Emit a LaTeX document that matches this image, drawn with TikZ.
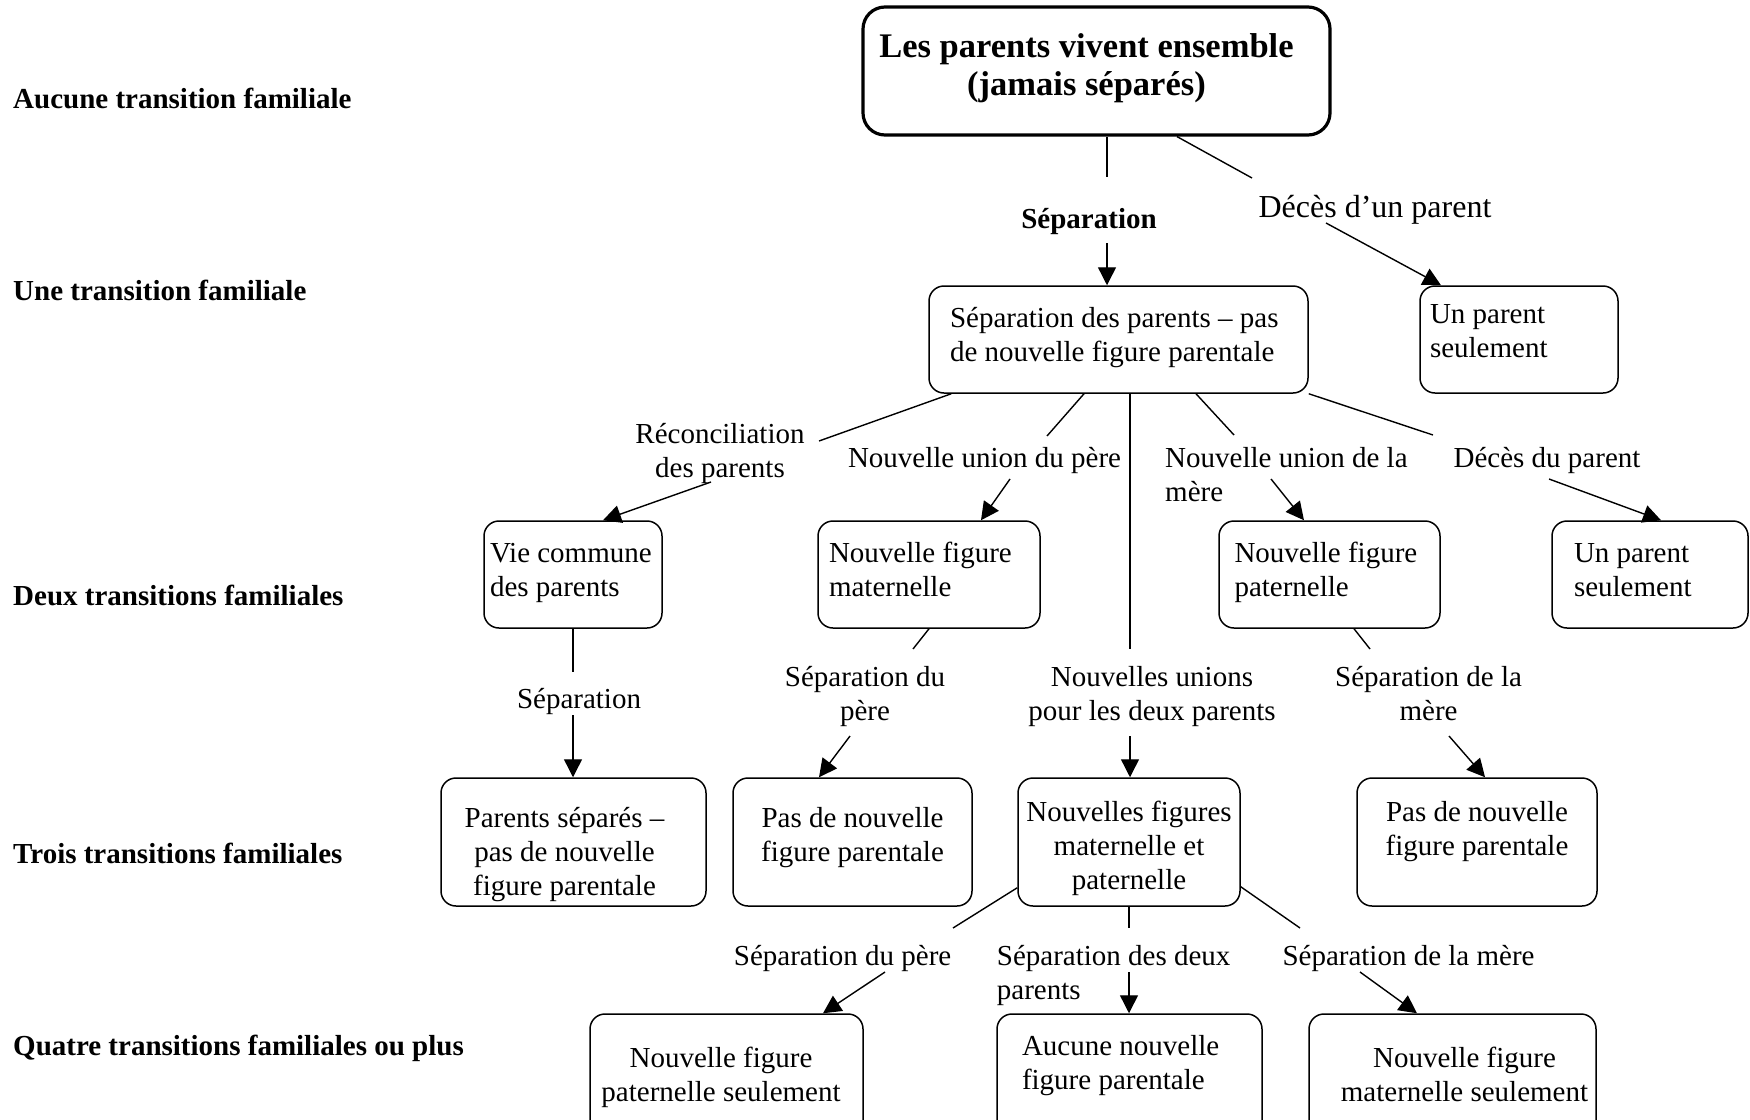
\documentclass[tikz,border=0pt]{standalone}
\usepackage{fontspec}
\setmainfont{Liberation Serif}
\usetikzlibrary{arrows.meta,positioning}
\newcommand{\bodysize}{\fontsize{29}{34}\selectfont}
\newcommand{\titlesize}{\fontsize{34.5}{38}\selectfont\bfseries}

\begin{document}
\begin{tikzpicture}[x=1pt,y=-1pt,
  box/.style={draw, rounded corners=15pt, line width=1.5pt, inner sep=0pt, text height=0pt, font=\bodysize},
  lbl/.style={font=\bodysize, inner sep=0pt},
  lvl/.style={font=\bodysize\bfseries, anchor=west, inner sep=0pt},
  link/.style={line width=1.4pt},
  arr/.style={line width=1.4pt, -{Triangle[length=18pt,width=18pt]}}]
\useasboundingbox (0,0) rectangle (1750,1119);

% number of transitions, left column
\node[lvl] (lv0) at (13,98) {Aucune transition familiale};
\node[lvl] (lv1) at (13,290) {Une transition familiale};
\node[lvl] (lv2) at (13,595) {Deux transitions familiales};
\node[lvl] (lv3) at (13,853) {Trois transitions familiales};
\node[lvl] (lv4) at (13,1048) {Quatre transitions familiales ou plus};

% boxes
\node[box, line width=3.2pt, rounded corners=22pt, minimum width=467pt, minimum height=128pt,
      font=\titlesize, text width=450pt, text depth=28pt, align=flush center] (top) at (1096.5,71)
      {Les parents vivent ensemble\kern20pt\\(jamais séparés)\kern20pt};
\node[box, minimum width=379pt, minimum height=107pt, text width=337pt, text depth=25pt, align=flush left]
      (sep) at (1118.5,339.5) {Séparation des parents -- pas\\de nouvelle figure parentale};
\node[box, minimum width=198pt, minimum height=107pt, text width=178pt, text depth=31.6pt, align=flush left]
      (one1) at (1519,339.5) {Un parent\\seulement};
\node[box, minimum width=178pt, minimum height=107pt, text width=166pt, text depth=23.8pt, align=flush left]
      (vie) at (573,574.5) {Vie commune\\des parents};
\node[box, minimum width=222pt, minimum height=107pt, text width=200pt, text depth=23.8pt, align=flush left]
      (newmother) at (929,574.5) {Nouvelle figure\\maternelle};
\node[box, minimum width=221pt, minimum height=107pt, text width=190pt, text depth=23.8pt, align=flush left]
      (newfather) at (1329.5,574.5) {Nouvelle figure\\paternelle};
\node[box, minimum width=196pt, minimum height=107pt, text width=152pt, text depth=23.8pt, align=flush left]
      (one2) at (1650,574.5) {Un parent\\seulement};
\node[box, minimum width=265pt, minimum height=128pt, text width=250pt, text depth=29.8pt, align=flush center]
      (sepagain) at (573.5,842) {Parents séparés --\kern18pt\\pas de nouvelle\kern18pt\\figure parentale\kern18pt};
\node[box, minimum width=239pt, minimum height=128pt, text width=232pt, text depth=29.8pt, align=flush center]
      (nonewA) at (852.5,842) {Pas de nouvelle\\figure parentale};
\node[box, minimum width=222pt, minimum height=128pt, text width=222pt, text depth=41pt, align=flush center]
      (both) at (1129,842) {Nouvelles figures\\maternelle et\\paternelle};
\node[box, minimum width=240pt, minimum height=128pt, text width=232pt, text depth=41pt, align=flush center]
      (nonewB) at (1477,842) {Pas de nouvelle\\figure parentale};
\node[box, minimum width=273pt, minimum height=128pt, text width=266pt, text depth=22pt, align=flush center]
      (fatheronly) at (726.5,1078) {Nouvelle figure\kern11pt\\paternelle seulement\kern11pt};
\node[box, minimum width=265pt, minimum height=128pt, text width=215pt, text depth=44.2pt, align=flush left]
      (nonewC) at (1129.5,1078) {Aucune nouvelle\\figure parentale};
\node[box, minimum width=287pt, minimum height=128pt, text width=280pt, text depth=22pt, align=flush center]
      (motheronly) at (1452.5,1078) {Nouvelle figure\kern-24pt\\maternelle seulement\kern-24pt};

% transition labels
\node[lbl, font=\bodysize\bfseries] (lsep) at (1089,222) {Séparation};
\node[lbl, font=\fontsize{32}{37}\selectfont] (ldeath1) at (1375,210) {Décès d’un parent};
\node[lbl, align=center] (lrecon) at (720,453) {Réconciliation\\des parents};
\node[lbl] (lfather) at (984.5,460) {Nouvelle union du père};
\node[lbl, align=left, anchor=west] (lmother) at (1165,475) {Nouvelle union de la\\mère};
\node[lbl] (ldeath2) at (1547,460) {Décès du parent};
\node[lbl] (lsep2) at (579,701) {Séparation};
\node[lbl, align=center] (lsepf) at (865,696) {Séparation du\\père};
\node[lbl, align=center] (lboth) at (1152,697) {Nouvelles unions\\pour les deux parents};
\node[lbl, align=center] (lsepm) at (1428.6,694) {Séparation de la\\mère};
\node[lbl] (lsepf2) at (842.6,958.5) {Séparation du père};
\node[lbl, align=left, anchor=west] (lsepb) at (996.7,975) {Séparation des deux\\parents};
\node[lbl] (lsepm2) at (1408.5,958.5) {Séparation de la mère};

% connector break points beside the labels
\coordinate (a1) at (1107,177);  \coordinate (a2) at (1107,243);
\coordinate (b1) at (1252,178);  \coordinate (b2) at (1326,223);
\coordinate (c1) at (819,441);   \coordinate (c2) at (711,482);
\coordinate (d1) at (1047,436);  \coordinate (d2) at (1010,479);
\coordinate (e1) at (1130,649);  \coordinate (e2) at (1130,736);
\coordinate (f1) at (1234,435);  \coordinate (f2) at (1271,479);
\coordinate (g1) at (1433,435);  \coordinate (g2) at (1549,479);
\coordinate (h1) at (573,672);   \coordinate (h2) at (573,715);
\coordinate (i1) at (913,649);   \coordinate (i2) at (850,736);
\coordinate (j1) at (1370,649);  \coordinate (j2) at (1449,736);
\coordinate (k1) at (953,928);   \coordinate (k2) at (885,972);
\coordinate (l1) at (1129,928);  \coordinate (l2) at (1129,972);
\coordinate (m1) at (1300,928);  \coordinate (m2) at (1360,972);

% connectors
\draw[link] (top.south -| a1) -- (a1);
\draw[arr] (a2) -- (sep.north -| a2);
\draw[link] ([xshift=80.5pt]top.south) -- (b1);
\draw[arr] (b2) -- ([xshift=-78pt]one1.north);
\draw[link] ([xshift=23pt]sep.south west) -- (c1);
\draw[arr] (c2) -- ([xshift=30pt]vie.north);
\draw[link] ([xshift=-34.5pt]sep.south) -- (d1);
\draw[arr] (d2) -- ([xshift=52pt]newmother.north);
\draw[link] (sep.south -| e1) -- (e1);
\draw[arr] (e2) -- (both.north -| e2);
\draw[link] ([xshift=77.5pt]sep.south) -- (f1);
\draw[arr] (f2) -- ([xshift=-25.5pt]newfather.north);
\draw[link] (sep.south east) -- (g1);
\draw[arr] (g2) -- ([xshift=11pt]one2.north);
\draw[link] (vie.south -| h1) -- (h1);
\draw[arr] (h2) -- (sepagain.north -| h2);
\draw[link] (newmother.south) -- (i1);
\draw[arr] (i2) -- ([xshift=-33.5pt]nonewA.north);
\draw[link] ([xshift=24.5pt]newfather.south) -- (j1);
\draw[arr] (j2) -- ([xshift=8pt]nonewB.north);
\draw[link] ([yshift=19pt]both.south west) -- (k1);
\draw[arr] (k2) -- ([xshift=96.5pt]fatheronly.north);
\draw[link] (both.south -| l1) -- (l1);
\draw[arr] (l2) -- (nonewC.north -| l2);
\draw[link] ([yshift=20pt]both.south east) -- (m1);
\draw[arr] (m2) -- ([xshift=-35.5pt]motheronly.north);
\end{tikzpicture}
\end{document}
